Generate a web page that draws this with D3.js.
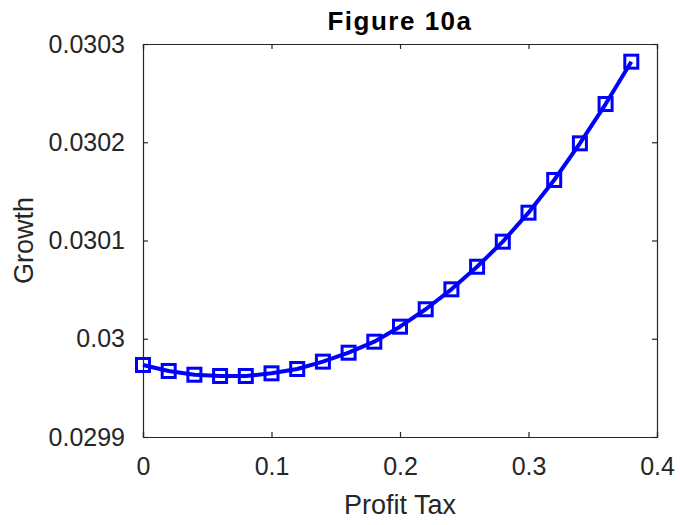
<!DOCTYPE html>
<html>
<head>
<meta charset="utf-8">
<script src="https://cdn.jsdelivr.net/npm/d3@7"></script>
<style>
  body { margin: 0; background: #fff; }
  text { font-family: "Liberation Sans", Arial, Helvetica, sans-serif; fill: #262626; }
</style>
</head>
<body>
<div id="chart"></div>
<script>
// profit tax rate and the resulting growth rate
const profitTax = [0, 0.02, 0.04, 0.06, 0.08, 0.10, 0.12, 0.14, 0.16, 0.18,
                   0.20, 0.22, 0.24, 0.26, 0.28, 0.30, 0.32, 0.34, 0.36, 0.38];
const growth = [0.0299733, 0.0299672, 0.0299634, 0.0299621, 0.0299621, 0.0299648,
                0.0299692, 0.0299767, 0.0299858, 0.0299970, 0.0300123, 0.0300300,
                0.0300503, 0.0300733, 0.0300988, 0.0301283, 0.0301616, 0.0301989,
                0.0302389, 0.0302820];
const xTicks = [0, 0.1, 0.2, 0.3, 0.4];
const yTicks = [0.0299, 0.0300, 0.0301, 0.0302, 0.0303];
const yTickLabels = ['0.0299', '0.03', '0.0301', '0.0302', '0.0303'];

const width = 680, height = 525;
const margin = { top: 44, right: 23, bottom: 88, left: 143 };
const w = width - margin.left - margin.right;
const h = height - margin.top - margin.bottom;

const svg = d3.select('#chart').append('svg')
    .attr('width', width)
    .attr('height', height);

const g = svg.append('g')
    .attr('transform', 'translate(' + margin.left + ',' + margin.top + ')');

const x = d3.scaleLinear().domain([0, 0.4]).range([0, w]);
const y = d3.scaleLinear().domain([0.0299, 0.0303]).range([h, 0]);

const axisColor = '#262626';

// box with inward ticks on all four sides
function styleAxis(sel) {
    sel.selectAll('path').attr('stroke', axisColor).attr('stroke-width', 1.2);
    sel.selectAll('line').attr('stroke', axisColor).attr('stroke-width', 1.2);
    sel.selectAll('text').style('font-size', '25px').attr('fill', axisColor);
}

g.append('g')
    .attr('transform', 'translate(0,' + h + ')')
    .call(d3.axisBottom(x).tickValues(xTicks).tickSize(-5).tickPadding(20)
        .tickFormat(d => d === 0 ? '0' : d3.format('.1f')(d)))
    .call(styleAxis)
    .call(s => s.selectAll('text').attr('dy', '0.71em'));

g.append('g')
    .call(d3.axisTop(x).tickValues(xTicks).tickSize(-5).tickFormat(''))
    .call(styleAxis);

g.append('g')
    .call(d3.axisLeft(y).tickValues(yTicks).tickSize(-5).tickPadding(18)
        .tickFormat((d, i) => yTickLabels[i]))
    .call(styleAxis);

g.append('g')
    .attr('transform', 'translate(' + w + ',0)')
    .call(d3.axisRight(y).tickValues(yTicks).tickSize(-5).tickFormat(''))
    .call(styleAxis);

const points = profitTax.map((t, i) => [t, growth[i]]);

const line = d3.line()
    .x(d => x(d[0]))
    .y(d => y(d[1]));

g.append('path')
    .datum(points)
    .attr('fill', 'none')
    .attr('stroke', '#0000ff')
    .attr('stroke-width', 4)
    .attr('stroke-linejoin', 'round')
    .attr('d', line);

const size = 13;
g.selectAll('rect.marker')
    .data(points)
    .enter().append('rect')
    .attr('class', 'marker')
    .attr('x', d => x(d[0]) - size / 2)
    .attr('y', d => y(d[1]) - size / 2)
    .attr('width', size)
    .attr('height', size)
    .attr('fill', 'none')
    .attr('stroke', '#0000ff')
    .attr('stroke-width', 3);

// title and axis labels
svg.append('text')
    .attr('x', margin.left + w / 2)
    .attr('y', 30)
    .attr('text-anchor', 'middle')
    .style('font-size', '26px')
    .style('font-weight', 'bold')
    .style('letter-spacing', '1.5px')
    .attr('fill', '#000')
    .style('fill', '#000')
    .text('Figure 10a');

svg.append('text')
    .attr('x', margin.left + w / 2)
    .attr('y', 514)
    .attr('text-anchor', 'middle')
    .style('font-size', '27px')
    .text('Profit Tax');

svg.append('text')
    .attr('transform', 'translate(33,' + (margin.top + h / 2) + ') rotate(-90)')
    .attr('text-anchor', 'middle')
    .style('font-size', '27px')
    .text('Growth');
</script>
</body>
</html>
